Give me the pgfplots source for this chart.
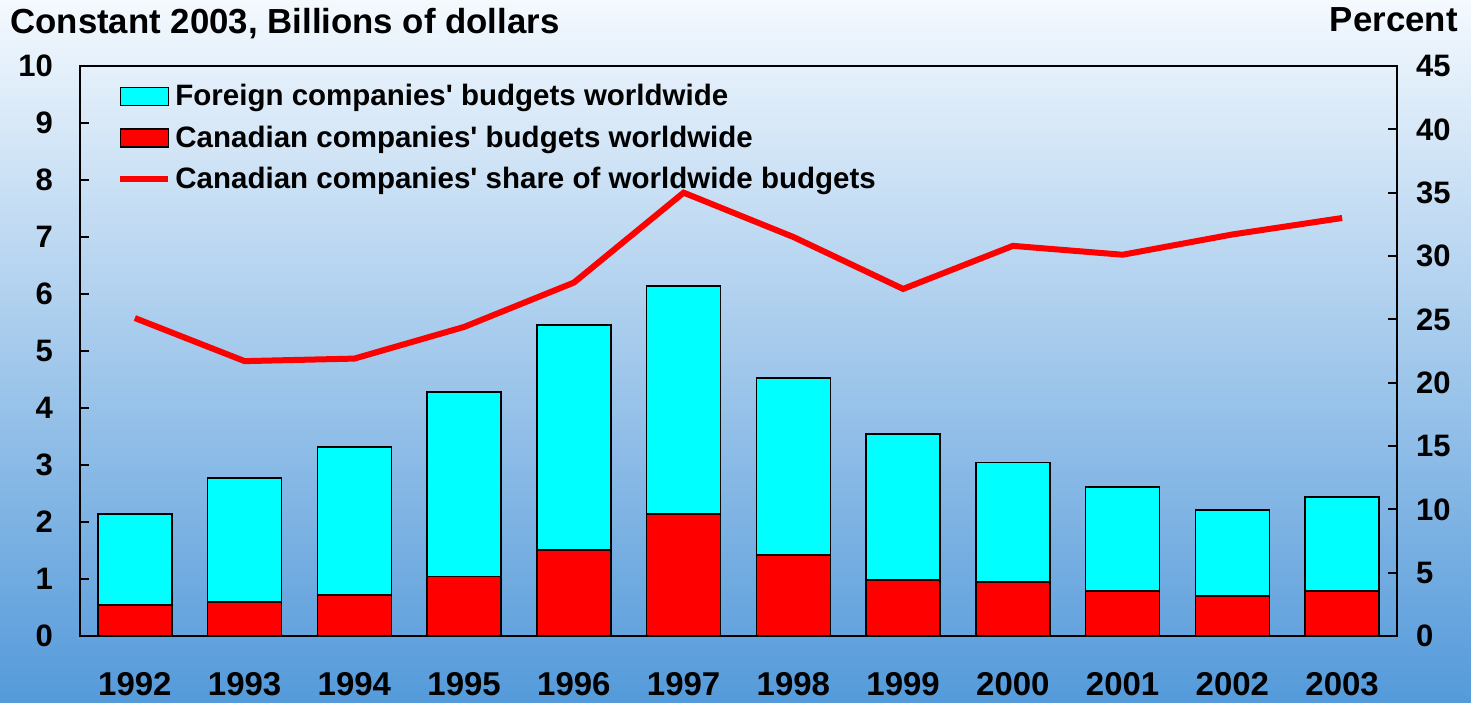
\documentclass[border=0pt]{standalone}
\usepackage{pgfplots}
\usepackage{pgfplotstable}
\pgfplotsset{compat=1.18}
\usepackage{fontspec}
\setmainfont{Liberation Sans}[Ligatures=TeXOff]
\definecolor{cyanbar}{RGB}{0,255,255}
\definecolor{redbar}{RGB}{255,0,0}
\definecolor{bgtop}{RGB}{244,249,254}
\definecolor{bgbot}{RGB}{84,154,218}

\pgfplotstableread{
x year foreign canadian share
0  1992 1.60 0.54 25.1
1  1993 2.17 0.60 21.7
2  1994 2.60 0.72 21.9
3  1995 3.24 1.04 24.4
4  1996 3.95 1.51 27.9
5  1997 4.00 2.14 35.0
6  1998 3.11 1.42 31.5
7  1999 2.56 0.98 27.4
8  2000 2.09 0.95 30.8
9  2001 1.82 0.79 30.1
10 2002 1.51 0.70 31.7
11 2003 1.65 0.79 33.0
}\datatable

\begin{document}
\begin{tikzpicture}
\shade[top color=bgtop, bottom color=bgbot] (0pt,0pt) rectangle (735.5pt,351pt);
\useasboundingbox (0pt,0pt) rectangle (735.5pt,351pt);
\node[anchor=base west, inner sep=0pt, font=\bfseries\fontsize{17.4}{17.4}\selectfont] at (5pt,334pt) {Constant 2003, Billions of dollars};
\node[anchor=base east, inner sep=0pt, font=\bfseries\fontsize{17.4}{17.4}\selectfont] at (729pt,335pt) {Percent};
\begin{axis}[
  at={(40pt,33pt)}, anchor=south west, scale only axis,
  width=658.5pt, height=285pt,
  xmin=-0.5, xmax=11.5, ymin=0, ymax=10,
  ybar stacked, bar width=0.675,
  xtick={0,...,11},
  xticklabels={1992,1993,1994,1995,1996,1997,1998,1999,2000,2001,2002,2003},
  ytick={0,1,...,10},
  major x tick style={draw=none},
  ytick pos=left, tick align=inside, major tick length=4.5pt,
  axis line style={line width=1pt},
  tick style={line width=1pt, black},
  /pgf/number format/assume math mode=true,
  xticklabel style={font=\bfseries\fontsize{16.5}{16.5}\selectfont, yshift=-14.5pt},
  yticklabel style={font=\bfseries\fontsize{15.5}{15.5}\selectfont, xshift=-10pt},
]
\addplot[fill=redbar, draw=black, line width=0.75pt] table[x=x,y=canadian]{\datatable};
\addplot[fill=cyanbar, draw=black, line width=0.75pt] table[x=x,y=foreign]{\datatable};
\draw[line width=1.5pt] (rel axis cs:0,0) -- (rel axis cs:1,0);
\end{axis}
\begin{axis}[
  at={(40pt,33pt)}, anchor=south west, scale only axis,
  width=658.5pt, height=285pt,
  xmin=-0.5, xmax=11.5, ymin=0, ymax=45,
  axis x line=none, axis y line*=right,
  ytick={0,5,...,45},
  tick align=inside, major tick length=4.5pt,
  axis line style={line width=1pt},
  tick style={line width=1pt, black},
  /pgf/number format/assume math mode=true,
  yticklabel style={font=\bfseries\fontsize{15.5}{15.5}\selectfont, xshift=6pt},
  legend style={at={(0,1)}, anchor=north west, draw=none, fill=none,
    inner sep=0pt, xshift=18.5pt, yshift=-7pt,
    font=\bfseries\fontsize{14.75}{14.75}\selectfont, row sep=4.5pt},
  legend cell align=left,
]
\addlegendimage{legend image code/.code={\draw[fill=cyanbar,draw=black,line width=0.75pt] (0pt,-4.5pt) rectangle (24pt,4.5pt);}}
\addlegendentry{Foreign companies' budgets worldwide}
\addlegendimage{legend image code/.code={\draw[fill=redbar,draw=black,line width=0.75pt] (0pt,-4.5pt) rectangle (24pt,4.5pt);}}
\addlegendentry{Canadian companies' budgets worldwide}
\addplot[redbar, line width=3pt, mark=none,
  legend image code/.code={\draw[redbar,line width=3pt] (0pt,0pt) -- (24pt,0pt);}]
  table[x=x,y=share]{\datatable};
\addlegendentry{Canadian companies' share of worldwide budgets}
\end{axis}
\end{tikzpicture}
\end{document}
